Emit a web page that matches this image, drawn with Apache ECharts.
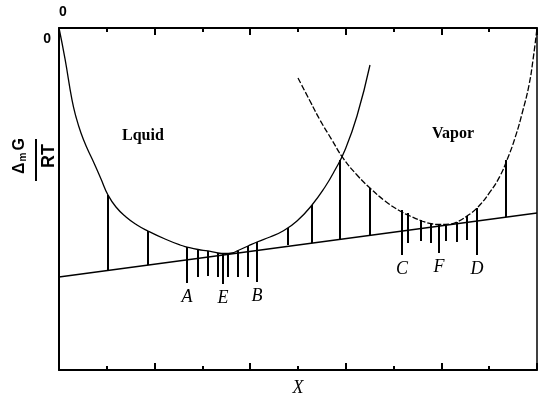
<!DOCTYPE html>
<html><head><meta charset="utf-8">
<script src="https://cdn.jsdelivr.net/npm/echarts@6/dist/echarts.min.js"></script>
<style>html,body{margin:0;padding:0;background:#fff}#c{width:538px;height:399px}</style>
</head><body><div id="c"></div>
<script>
// ---- data (x = mole fraction X, y = Δm G / RT in arbitrary units, 0 at top) ----
const liquidX = [0, 0.0126, 0.0272, 0.0356, 0.0460, 0.0586, 0.0732, 0.0879, 0.1025, 0.1192, 0.1402, 0.1632, 0.1862, 0.2218, 0.2531, 0.2678, 0.2908, 0.3117, 0.3326, 0.3473, 0.3619, 0.3745, 0.3954, 0.4142, 0.4414, 0.4686, 0.4979, 0.5293, 0.5565, 0.5774, 0.5983, 0.6234, 0.6506];
const liquidY = [0, -0.0906, -0.2105, -0.2602, -0.3070, -0.3509, -0.3947, -0.4415, -0.4883, -0.5234, -0.5526, -0.5760, -0.5936, -0.6170, -0.6345, -0.6404, -0.6477, -0.6520, -0.6579, -0.6594, -0.6579, -0.6506, -0.6374, -0.6257, -0.6111, -0.5936, -0.5643, -0.5175, -0.4649, -0.4152, -0.3567, -0.2573, -0.1082];
const vaporX = [0.5000, 0.5251, 0.5460, 0.5711, 0.5941, 0.6234, 0.6506, 0.6820, 0.7134, 0.7343, 0.7594, 0.7824, 0.7971, 0.8180, 0.8326, 0.8536, 0.8745, 0.9017, 0.9226, 0.9372, 0.9540, 0.9707, 0.9833, 0.9916, 1.0];
const vaporY = [-0.1462, -0.2135, -0.2690, -0.3275, -0.3801, -0.4298, -0.4678, -0.5058, -0.5351, -0.5497, -0.5643, -0.5731, -0.5746, -0.5731, -0.5673, -0.5497, -0.5263, -0.4795, -0.4327, -0.3860, -0.3216, -0.2398, -0.1667, -0.0936, 0];
const tangentX = [0, 1];
const tangentY = [-0.7281, -0.5409];
const segX      = [0.1025, 0.1862, 0.2678, 0.2908, 0.3117, 0.3326, 0.3431, 0.3536, 0.3745, 0.3954, 0.4142, 0.4791, 0.5293, 0.5879, 0.6506, 0.7176, 0.7301, 0.7573, 0.7782, 0.7950, 0.8096, 0.8326, 0.8536, 0.8745, 0.9351];
const segTop    = [-0.4883, -0.5936, -0.6404, -0.6462, -0.6520, -0.6579, -0.6594, -0.6579, -0.6506, -0.6374, -0.6257, -0.5848, -0.5175, -0.3860, -0.4678, -0.5322, -0.5409, -0.5614, -0.5702, -0.5746, -0.5746, -0.5673, -0.5497, -0.5263, -0.3860];
const segBottom = [-0.7076, -0.6930, -0.7456, -0.7281, -0.7251, -0.7281, -0.7485, -0.7281, -0.7281, -0.7281, -0.7427, -0.6345, -0.6287, -0.6170, -0.6053, -0.6637, -0.6287, -0.6228, -0.6287, -0.6579, -0.6228, -0.6257, -0.6199, -0.6637, -0.5526];
const segLabels = ['', '', 'A', '', '', '', 'E', '', '', '', 'B', '', '', '', '', 'C', '', '', '', 'F', '', '', '', 'D', ''];
const topTickLabels = ['0'];
const leftTickLabels = ['0'];
const phaseLabels = ['Lquid', 'Vapor'];
const xAxisName = 'X';

const zip = (a, b) => a.map((v, i) => [v, b[i]]);
const chart = echarts.init(document.getElementById('c'), null, {renderer: 'canvas'});
const ink = '#000';
const serif = '"Liberation Serif", "Times New Roman", serif';
const sans = '"Liberation Sans", Arial, sans-serif';

const tickCommon = {
  type: 'value', min: 0, max: 1, interval: 0.2,
  axisLine: {show: true, onZero: false, lineStyle: {color: ink, width: 2}},
  axisTick: {show: true, inside: true, length: 7, lineStyle: {color: ink, width: 2}},
  minorTick: {show: true, splitNumber: 2, length: 4, lineStyle: {color: ink, width: 2}},
  splitLine: {show: false}, minorSplitLine: {show: false}
};

chart.setOption({
  animation: false,
  backgroundColor: '#fff',
  grid: {left: 59, right: 1, top: 28, bottom: 29, containLabel: false, outerBoundsMode: 'none'},
  xAxis: [
    Object.assign({}, tickCommon, {
      position: 'bottom',
      axisLabel: {show: false},
      name: xAxisName, nameLocation: 'middle', nameGap: 9,
      nameTextStyle: {fontFamily: serif, fontStyle: 'italic', fontSize: 18, color: ink, verticalAlign: 'top'}
    }),
    Object.assign({}, tickCommon, {
      position: 'top',
      axisLabel: {show: true, formatter: v => (v === 0 ? topTickLabels[0] : ''), align: 'left', margin: 9,
        fontFamily: sans, fontWeight: 'bold', fontSize: 14, color: ink, showMinLabel: true}
    })
  ],
  yAxis: [
    {type: 'value', min: -1, max: 0, interval: 0.5, position: 'left',
      axisLine: {show: true, onZero: false, lineStyle: {color: ink, width: 2}},
      axisTick: {show: false}, splitLine: {show: false},
      axisLabel: {show: true, formatter: v => (v === 0 ? leftTickLabels[0] : ''), verticalAlign: 'top', margin: 8,
        padding: [4, 0, 0, 0], fontFamily: sans, fontWeight: 'bold', fontSize: 14, color: ink, showMaxLabel: true}},
    {type: 'value', min: -1, max: 0, interval: 0.5, position: 'right',
      axisLine: {show: true, onZero: false, lineStyle: {color: ink, width: 1.5}},
      axisTick: {show: false}, splitLine: {show: false}, axisLabel: {show: false}}
  ],
  series: [
    {type: 'line', name: 'Liquid', data: zip(liquidX, liquidY), smooth: 0.5, showSymbol: false, symbol: 'none',
      lineStyle: {color: ink, width: 1.3}, clip: false, z: 3},
    {type: 'line', name: 'Vapor', data: zip(vaporX, vaporY), smooth: 0.5, showSymbol: false, symbol: 'none',
      lineStyle: {color: ink, width: 1.3, type: [6, 2]}, clip: false, z: 3},
    {type: 'line', name: 'Tangent', data: zip(tangentX, tangentY), showSymbol: false, symbol: 'none',
      lineStyle: {color: ink, width: 1.4}, z: 3},
    {type: 'custom', name: 'Segments',
      data: segX.map((x, i) => [x, segTop[i], segBottom[i], i]),
      encode: {x: 0, y: [1, 2]},
      z: 4,
      renderItem: (params, api) => {
        const x = api.value(0), t = api.value(1), b = api.value(2), i = api.value(3);
        const p1 = api.coord([x, t]), p2 = api.coord([x, b]);
        const children = [{type: 'line', shape: {x1: p1[0], y1: p1[1], x2: p2[0], y2: p2[1]},
          style: {stroke: ink, lineWidth: 2}}];
        const lab = segLabels[i];
        if (lab) children.push({type: 'text', style: {text: lab, x: p2[0], y: p2[1] + 5, align: 'center', verticalAlign: 'top',
          fontFamily: serif, fontStyle: 'italic', fontSize: 18, fill: ink}});
        return {type: 'group', children};
      }}
  ],
  graphic: [
    {type: 'text', left: 122, top: 128, style: {text: phaseLabels[0], fontFamily: serif, fontWeight: 'bold', fontSize: 16, fill: ink}},
    {type: 'text', left: 432, top: 126, style: {text: phaseLabels[1], fontFamily: serif, fontWeight: 'bold', fontSize: 16, fill: ink}},
    {type: 'group', x: 36, y: 156, rotation: Math.PI / 2, children: [
      {type: 'line', shape: {x1: -25, y1: 0, x2: 17, y2: 0}, style: {stroke: ink, lineWidth: 2}},
      {type: 'text', x: 0, y: -8, style: {text: '{d|Δ}{m|m}{g|G}', align: 'center', verticalAlign: 'bottom',
        rich: {d: {fontFamily: sans, fontWeight: 'bold', fontSize: 16, fill: ink, verticalAlign: 'bottom'},
               m: {fontFamily: sans, fontWeight: 'bold', fontSize: 10, fill: ink, verticalAlign: 'bottom', padding: [0, 2, 0, 1]},
               g: {fontFamily: sans, fontWeight: 'bold', fontSize: 16, fill: ink, verticalAlign: 'bottom'}}}},
      {type: 'text', x: 0, y: 4, style: {text: 'RT', align: 'center', verticalAlign: 'top',
        fontFamily: sans, fontWeight: 'bold', fontSize: 18, fill: ink}}
    ]}
  ]
});
</script>
</body></html>
